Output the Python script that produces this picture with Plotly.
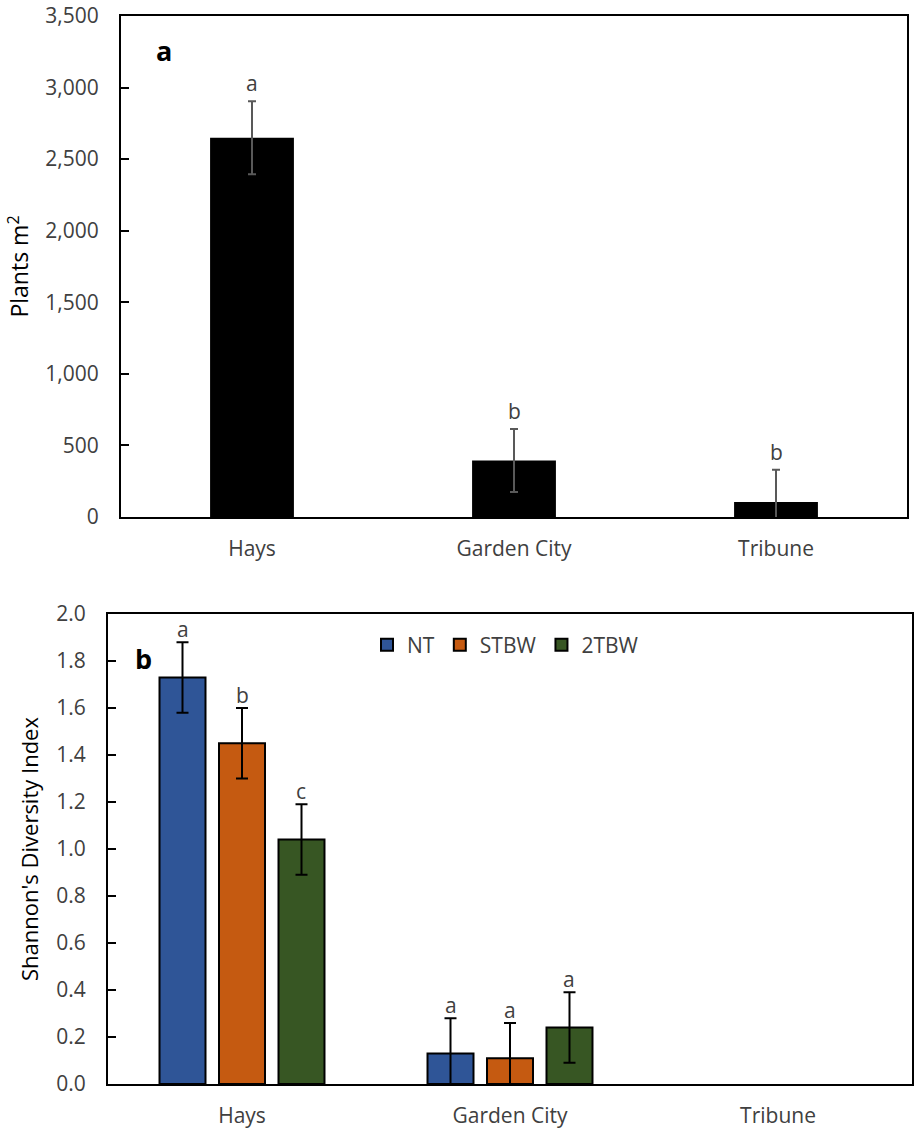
import plotly.graph_objects as go

sites = ["Hays", "Garden City", "Tribune"]

# Panel a: plant density
plants = [2650, 395, 105]
plants_err = [255, 220, 225]
plants_letters = ["a", "b", "b"]

# Panel b: Shannon's diversity index
treatments = ["NT", "STBW", "2TBW"]
colors = ["#2F5597", "#C55A11", "#375623"]
shannon = {
    "NT": [1.73, 0.13, 0.0],
    "STBW": [1.45, 0.11, 0.0],
    "2TBW": [1.04, 0.24, 0.0],
}
shannon_err = {
    "NT": [0.15, 0.15, 0.0],
    "STBW": [0.15, 0.15, 0.0],
    "2TBW": [0.15, 0.15, 0.0],
}
shannon_letters = {
    "NT": ["a", "a", ""],
    "STBW": ["b", "a", ""],
    "2TBW": ["c", "a", ""],
}

W, H = 915, 1131
FONT = "Open Sans"
TXT = "#404040"
TICK = 21

ax_a = dict(x0=121, x1=907, top=16, bottom=517)
ax_b = dict(x0=108, x1=912, top=614, bottom=1084)
BARGAP_B = 0.334
BARGROUPGAP_B = 0.227

fig = go.Figure()

fig.add_trace(go.Bar(
    x=sites, y=plants, xaxis="x", yaxis="y",
    marker=dict(color="black", line=dict(color="black", width=0)),
    width=0.32,
    error_y=dict(type="data", array=plants_err, color="#595959", thickness=2, width=4),
    showlegend=False,
))

for t, c in zip(treatments, colors):
    # zero-height bars (Tribune) are not drawn, as in the original
    yv = [v if v > 0 else None for v in shannon[t]]
    fig.add_trace(go.Bar(
        x=sites, y=yv, name=t, xaxis="x2", yaxis="y2",
        marker=dict(color=c, line=dict(color="black", width=2)),
        error_y=dict(type="data", array=shannon_err[t], color="black", thickness=2, width=6),
    ))

annotations = []
for s, v, e, l in zip(sites, plants, plants_err, plants_letters):
    annotations.append(dict(x=s, y=v + e, xref="x", yref="y", text=l, showarrow=False,
                            yanchor="bottom", yshift=2, font=dict(size=TICK, color=TXT, family=FONT)))

slot = (ax_b["x1"] - ax_b["x0"]) / len(sites) * (1 - BARGAP_B) / len(treatments)
for k, t in enumerate(treatments):
    for s, v, e, l in zip(sites, shannon[t], shannon_err[t], shannon_letters[t]):
        if not l:
            continue
        annotations.append(dict(x=s, y=v + e, xref="x2", yref="y2", text=l, showarrow=False,
                                xshift=(k - 1) * slot, yanchor="bottom", yshift=-3,
                                font=dict(size=TICK, color=TXT, family=FONT)))

annotations.append(dict(x=(164 - ax_a["x0"]) / (ax_a["x1"] - ax_a["x0"]), y=3262, xref="x domain", yref="y",
                        xanchor="center", yanchor="middle",
                        text="<b>a</b>", showarrow=False, font=dict(size=27, color="black", family=FONT)))
annotations.append(dict(x=(143 - ax_b["x0"]) / (ax_b["x1"] - ax_b["x0"]), y=1.81, xref="x2 domain", yref="y2",
                        xanchor="center", yanchor="middle",
                        text="<b>b</b>", showarrow=False, font=dict(size=27, color="black", family=FONT)))


def xd(a):
    return [a["x0"] / W, a["x1"] / W]


def yd(a):
    return [1 - a["bottom"] / H, 1 - a["top"] / H]


common_x = dict(showline=True, linecolor="black", linewidth=2, mirror=True, automargin=False,
                ticks="", ticklabelstandoff=12, categoryorder="array", categoryarray=sites,
                range=[-0.5, len(sites) - 0.5],
                tickfont=dict(size=TICK, color=TXT, family=FONT), showgrid=False)
common_y = dict(showline=True, linecolor="black", linewidth=2, mirror=True, automargin=False,
                ticks="inside", tickcolor="black", ticklen=8, tickwidth=1.5, ticklabelstandoff=16,
                tickfont=dict(size=TICK, color=TXT, family=FONT), showgrid=False, zeroline=False)

fig.update_layout(
    width=W, height=H,
    margin=dict(l=0, r=0, t=0, b=0, autoexpand=False),
    paper_bgcolor="white", plot_bgcolor="white",
    font=dict(family=FONT, color=TXT),
    barmode="group", bargap=BARGAP_B, bargroupgap=BARGROUPGAP_B,
    xaxis=dict(domain=xd(ax_a), anchor="y", **common_x),
    yaxis=dict(domain=yd(ax_a), anchor="x", range=[0, 3500], tickvals=list(range(0, 3501, 500)),
               tickformat=",", title=dict(text="Plants m<sup>2</sup>", font=dict(size=23, color="black", family=FONT),
                                          standoff=10), **common_y),
    xaxis2=dict(domain=xd(ax_b), anchor="y2", **common_x),
    yaxis2=dict(domain=yd(ax_b), anchor="x2", range=[0, 2.0], dtick=0.2, tickformat=".1f",
                title=dict(text="Shannon's Diversity Index", font=dict(size=22, color="black", family=FONT),
                           standoff=12), **common_y),
    legend=dict(orientation="h", x=367 / W, y=1 - 645 / H, xanchor="left", yanchor="middle",
                font=dict(size=TICK, color=TXT, family=FONT), bgcolor="rgba(0,0,0,0)",
                itemwidth=30, tracegroupgap=0),
    annotations=annotations,
)

fig.write_html("out.html", config={"displayModeBar": False},
               post_script="document.body.style.margin='0';document.body.style.overflow='hidden';")
